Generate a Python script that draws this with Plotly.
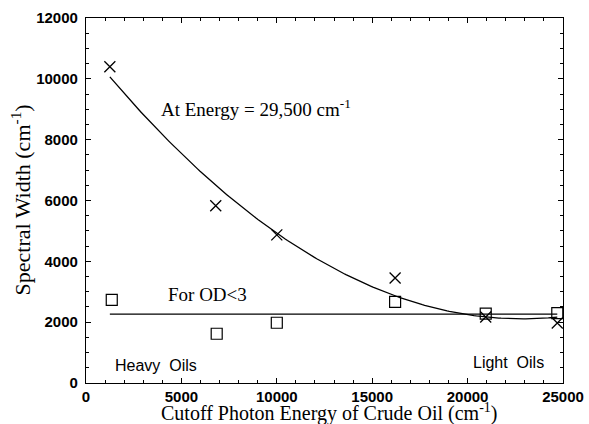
import numpy as np
import plotly.graph_objects as go

# Cutoff photon energy of each crude oil (cm^-1)
energy_x = [1250, 6800, 10000, 16200, 20950, 24700]
# Spectral width at 29,500 cm^-1 (x markers)
width_at_energy = [10400, 5830, 4870, 3450, 2170, 1975]
# Spectral width for OD<3 (square markers)
energy_sq = [1350, 6850, 10000, 16200, 20950, 24700]
width_od3 = [2730, 1620, 1980, 2670, 2280, 2300]

x_ticks = [0, 5000, 10000, 15000, 20000, 25000]
y_ticks = [0, 2000, 4000, 6000, 8000, 10000, 12000]

# Quadratic trend through the 29,500 cm^-1 widths
coef = np.polyfit(energy_x, width_at_energy, 2)
xs = np.linspace(min(energy_x), max(energy_x), 200)
ys = np.polyval(coef, xs)

# Mean level of the OD<3 widths
od3_mean = float(np.mean(width_od3))

fig = go.Figure()
fig.add_trace(go.Scatter(x=xs, y=ys, mode="lines",
                         line=dict(color="black", width=1.3), hoverinfo="skip"))
fig.add_trace(go.Scatter(x=[min(energy_x), max(energy_x)], y=[od3_mean, od3_mean],
                         mode="lines", line=dict(color="black", width=1.3)))
fig.add_trace(go.Scatter(x=energy_x, y=width_at_energy, mode="markers",
                         marker=dict(symbol="x-thin-open", size=11, color="black",
                                     line=dict(color="black", width=1.3))))
fig.add_trace(go.Scatter(x=energy_sq, y=width_od3, mode="markers",
                         marker=dict(symbol="square-open", size=11, color="black",
                                     line=dict(color="black", width=1.2))))

serif = "Liberation Serif, Times New Roman, serif"
sans = "Liberation Sans, Arial, sans-serif"

axis_common = dict(
    showline=True, linecolor="black", linewidth=1.3, mirror="allticks",
    ticks="inside", ticklen=5, tickwidth=1, tickcolor="black",
    showgrid=False, zeroline=False, automargin=False,
    tickfont=dict(family=sans, size=15, color="black", weight="bold"),
)

fig.update_xaxes(range=[0, 25000], tickvals=x_ticks,
                 ticktext=[str(v) for v in x_ticks], ticklabelstandoff=0,
                 minor=dict(dtick=1000, ticks="inside", ticklen=3, tickcolor="black"),
                 **axis_common)
fig.update_yaxes(range=[0, 12000], tickvals=y_ticks,
                 ticktext=[str(v) for v in y_ticks], ticklabelstandoff=4,
                 minor=dict(dtick=500, ticks="inside", ticklen=3, tickcolor="black"),
                 **axis_common)

# Axis titles as annotations so they sit tight against the tick labels
fig.add_annotation(x=0.509, y=0, xref="paper", yref="paper", yshift=-29,
                   xanchor="center", yanchor="middle", showarrow=False,
                   text="Cutoff Photon Energy of Crude Oil (cm<sup>-1</sup>)",
                   font=dict(family=serif, size=20, color="black"))
fig.add_annotation(x=0, y=0.5, xref="paper", yref="paper", xshift=-66,
                   xanchor="center", yanchor="middle", showarrow=False, textangle=-90,
                   text="Spectral Width (cm<sup>-1</sup>)",
                   font=dict(family=serif, size=22, color="black"))

fig.add_annotation(x=3850, y=9050, xanchor="left", yanchor="middle", showarrow=False,
                   text="At Energy = 29,500 cm<sup>-1</sup>",
                   font=dict(family=serif, size=19, color="black"))
fig.add_annotation(x=4200, y=2900, xanchor="left", yanchor="middle", showarrow=False,
                   text="For OD<3", font=dict(family=serif, size=19, color="black"))
fig.add_annotation(x=1400, y=560, xanchor="left", yanchor="middle", showarrow=False,
                   text="Heavy  Oils", font=dict(family=sans, size=16, color="black"))
fig.add_annotation(x=24100, y=690, xanchor="right", yanchor="middle", showarrow=False,
                   text="Light  Oils", font=dict(family=sans, size=16, color="black"))

fig.update_layout(width=589, height=424, showlegend=False,
                  margin=dict(l=86, r=26, t=18, b=41),
                  paper_bgcolor="white", plot_bgcolor="white")

fig.write_html("out.html")
